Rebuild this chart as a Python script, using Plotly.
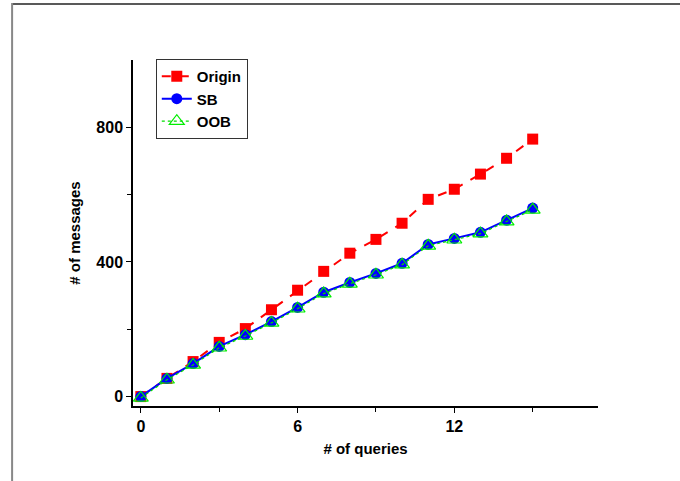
import plotly.graph_objects as go

queries = list(range(16))
origin = [0, 54, 104, 161, 202, 258, 316, 372, 426, 467, 515, 586, 616, 661, 708, 765]
sb = [0, 54, 98, 149, 184, 223, 265, 310, 339, 366, 396, 452, 470, 488, 524, 560]
oob = [-4, 50, 94, 145, 180, 219, 261, 306, 335, 362, 392, 448, 466, 484, 520, 555]

x_ticks = [0, 6, 12]
y_ticks = [0, 400, 800]

fig = go.Figure()
fig.add_trace(go.Scatter(x=queries, y=origin, name="Origin", mode="lines+markers",
                         line=dict(color="#ff0000", width=2, dash="dash"),
                         marker=dict(symbol="square", size=11, color="#ff0000")))
fig.add_trace(go.Scatter(x=queries, y=sb, name="SB", mode="lines+markers",
                         line=dict(color="#0000ff", width=2),
                         marker=dict(symbol="circle", size=11, color="#0000ff")))
fig.add_trace(go.Scatter(x=queries, y=oob, name="OOB", mode="lines+markers",
                         line=dict(color="#00dd00", width=1.2, dash="dot"),
                         marker=dict(symbol="triangle-up-open", size=13, color="#00ee00",
                                     line=dict(width=1.2))))

font_family = "Liberation Sans, Arial, sans-serif"
fig.update_layout(
    width=680, height=481,
    margin=dict(l=133, r=82, t=60, b=75),
    paper_bgcolor="white", plot_bgcolor="white",
    font=dict(family=font_family, color="black"),
    showlegend=True,
    legend=dict(x=0.049, y=1.003, xanchor="left", yanchor="top",
                bordercolor="#333333", borderwidth=1, bgcolor="white",
                font=dict(size=15, family=font_family, weight="bold"),
                tracegroupgap=0, itemwidth=30),
    xaxis=dict(range=[-0.3, 17.5], tickvals=x_ticks, showgrid=False, zeroline=False,
               showline=True, linecolor="black", linewidth=1.5,
               ticks="outside", ticklen=5, tickcolor="black",
               minor=dict(tickvals=[3, 9, 15], ticks="outside", ticklen=4, tickcolor="black"),
               tickfont=dict(size=16, weight="bold"),
               title=dict(text="# of queries", font=dict(size=15, weight="bold"), standoff=10)),
    yaxis=dict(range=[-28, 1000], tickvals=y_ticks, showgrid=False, zeroline=False,
               showline=True, linecolor="black", linewidth=1.5,
               ticks="outside", ticklen=5, tickcolor="black",
               minor=dict(tickvals=[200, 600], ticks="outside", ticklen=4, tickcolor="black"),
               tickfont=dict(size=16, weight="bold"),
               title=dict(text="# of messages", font=dict(size=15, weight="bold"), standoff=12)),
    shapes=[
        dict(type="line", xref="paper", yref="paper", x0=-0.260, x1=1.2, y0=1.162, y1=1.162,
             line=dict(color="#222222", width=1.5)),
        dict(type="line", xref="paper", yref="paper", x0=-0.260, x1=-0.260, y0=-0.3, y1=1.165,
             line=dict(color="#888888", width=2)),
    ],
)

fig.write_html("out.html")
